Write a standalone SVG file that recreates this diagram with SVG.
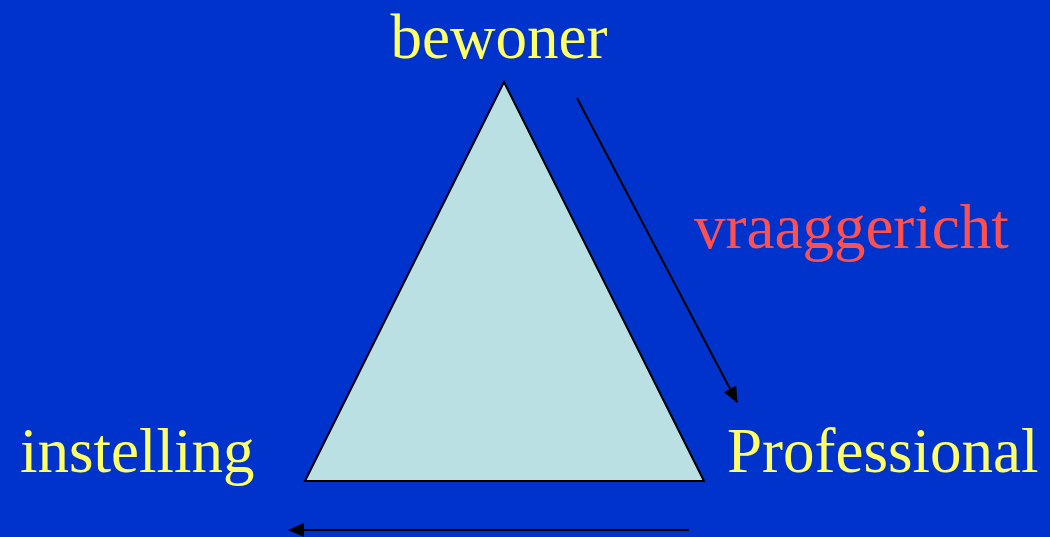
<svg xmlns="http://www.w3.org/2000/svg" width="1050" height="537" viewBox="0 0 1050 537">
<style>
.lbl{font-family:"Liberation Serif","Times New Roman",serif;font-size:63px;fill:#FFFF66}
.red{fill:#FF5050}
.conn{stroke:#000;stroke-width:2;fill:none}
</style>
<defs>
<marker id="ah" markerWidth="10" markerHeight="10" refX="9" refY="5" orient="auto" markerUnits="userSpaceOnUse" viewBox="0 0 10 10">
<path d="M0,0 L10,5 L0,10 z" fill="#000"/>
</marker>
<marker id="ah2" markerWidth="16" markerHeight="14" refX="15" refY="7" orient="auto" markerUnits="userSpaceOnUse" viewBox="0 0 16 14">
<path d="M0,0 L16,7 L0,14 z" fill="#000"/>
</marker>
</defs>
<rect width="1050" height="537" fill="#0033CC"/>
<g id="triangle">
<polygon points="504,82 305,481 704,481" fill="#BBE0E3" stroke="#000" stroke-width="2"/>
</g>
<g id="bewoner"><text class="lbl" x="499" y="58" text-anchor="middle">bewoner</text></g>
<g id="instelling"><text class="lbl" x="20" y="472">instelling</text></g>
<g id="professional"><text class="lbl" x="727" y="472">Professional</text></g>
<g id="vraaggericht"><text class="lbl red" x="694" y="248">vraaggericht</text></g>
<g id="connectors">
<line class="conn" x1="577" y1="98" x2="737" y2="402" marker-end="url(#ah2)"/>
<line class="conn" x1="689" y1="530" x2="289" y2="530" marker-end="url(#ah2)"/>
</g>
</svg>
